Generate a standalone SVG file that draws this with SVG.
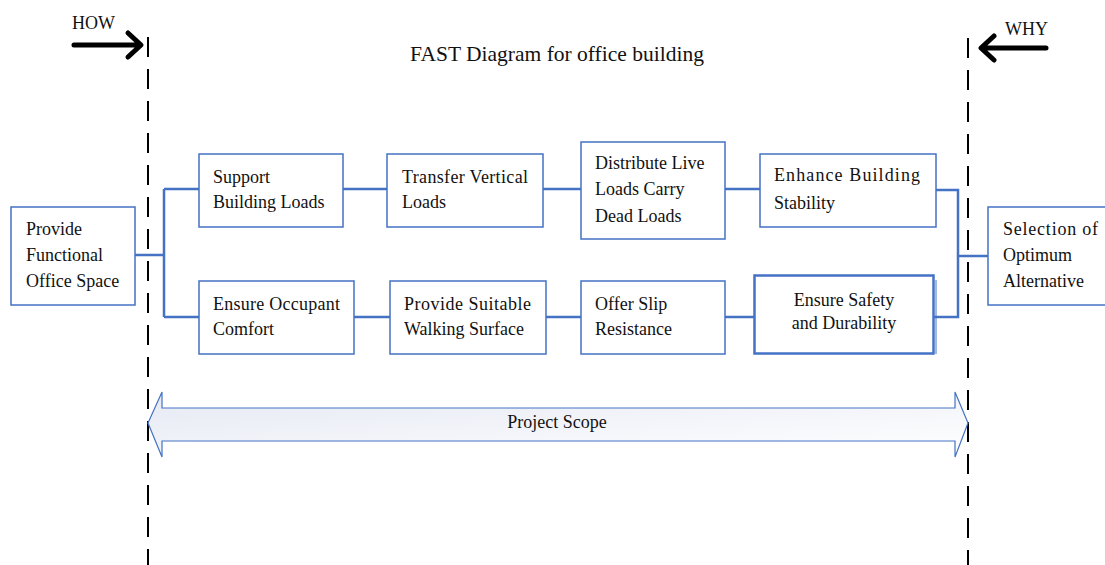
<svg xmlns="http://www.w3.org/2000/svg" width="1105" height="565" viewBox="0 0 1105 565">
<style>
.box{fill:#fff;stroke:#4472C4;stroke-width:1.5}
.t{font-family:"Liberation Serif","Times New Roman",serif;font-size:18px;fill:#111}
.con{fill:none;stroke:#4472C4;stroke-width:2.5}
.dash{stroke:#000;stroke-width:2;stroke-dasharray:20 12}
.big{fill:none;stroke:#000;stroke-width:5;stroke-linecap:round;stroke-linejoin:round}
</style>
<defs>
<linearGradient id="g" x1="0" y1="0" x2="1" y2="1">
<stop offset="0" stop-color="#E6E9F4"/>
<stop offset="1" stop-color="#FFFFFF"/>
</linearGradient>
</defs>
<rect width="1105" height="565" fill="#fff"/>
<g id="how">
<text class="t" x="72" y="29">HOW</text>
<path class="big" d="M74 45H140M128 33L141 45L128 57"/>
</g>
<g id="why">
<text class="t" x="1005" y="35">WHY</text>
<path class="big" d="M1046 48H982M994 36L981 48L994 60"/>
</g>
<text class="t" x="557" y="61" text-anchor="middle" style="font-size:21.5px">FAST Diagram for office building</text>
<line class="dash" x1="148" y1="37" x2="148" y2="565"/>
<line class="dash" x1="968" y1="38" x2="968" y2="565"/>
<g id="scope">
<path d="M148 423L162 392V408H955V392L968 423L955 457V441H162V457Z" fill="url(#g)" stroke="#4472C4" stroke-width="1.2"/>
<text class="t" x="557" y="428" text-anchor="middle">Project Scope</text>
</g>
<g id="connectors">
<path class="con" d="M135 255H164M164 189V317M164 189H199M164 317H199"/>
<path class="con" d="M343 189H387M543 189H581M725 189H760"/>
<path class="con" d="M354 317H390M546 317H581M725 317H754"/>
<path class="con" d="M936 190H958V317H934M958 256H988"/>
</g>
<g id="n-provide">
<rect class="box" x="11" y="207" width="124" height="98"/>
<text class="t" x="26" y="235">Provide</text>
<text class="t" x="26" y="261">Functional</text>
<text class="t" x="26" y="287">Office Space</text>
</g>
<g id="n-support">
<rect class="box" x="199" y="154" width="144" height="73"/>
<text class="t" x="213" y="183">Support</text>
<text class="t" x="213" y="208">Building Loads</text>
</g>
<g id="n-transfer">
<rect class="box" x="387" y="154" width="156" height="73"/>
<text class="t" x="402" y="183" textLength="126" lengthAdjust="spacing">Transfer Vertical</text>
<text class="t" x="402" y="208">Loads</text>
</g>
<g id="n-distribute">
<rect class="box" x="581" y="142" width="144" height="97"/>
<text class="t" x="595" y="169">Distribute Live</text>
<text class="t" x="595" y="195">Loads Carry</text>
<text class="t" x="595" y="222">Dead Loads</text>
</g>
<g id="n-enhance">
<rect class="box" x="760" y="154" width="176" height="73"/>
<text class="t" x="774" y="181" textLength="146" lengthAdjust="spacing">Enhance Building</text>
<text class="t" x="774" y="209">Stability</text>
</g>
<g id="n-occupant">
<rect class="box" x="199" y="281" width="155" height="73"/>
<text class="t" x="213" y="310" textLength="127" lengthAdjust="spacing">Ensure Occupant</text>
<text class="t" x="213" y="335">Comfort</text>
</g>
<g id="n-walking">
<rect class="box" x="390" y="281" width="156" height="73"/>
<text class="t" x="404" y="310" textLength="127" lengthAdjust="spacing">Provide Suitable</text>
<text class="t" x="404" y="335">Walking Surface</text>
</g>
<g id="n-slip">
<rect class="box" x="581" y="281" width="144" height="73"/>
<text class="t" x="595" y="310">Offer Slip</text>
<text class="t" x="595" y="335">Resistance</text>
</g>
<g id="n-safety">
<line x1="936" y1="280" x2="936" y2="354" stroke="#4472C4" stroke-width="1"/>
<rect class="box" x="754.5" y="275.5" width="179" height="78" style="stroke-width:2.5"/>
<text class="t" x="844" y="306" text-anchor="middle">Ensure Safety</text>
<text class="t" x="844" y="329" text-anchor="middle">and Durability</text>
</g>
<g id="n-selection">
<rect class="box" x="988" y="207" width="125" height="98"/>
<text class="t" x="1003" y="235" textLength="95" lengthAdjust="spacing">Selection of</text>
<text class="t" x="1003" y="261">Optimum</text>
<text class="t" x="1003" y="287">Alternative</text>
</g>
</svg>
